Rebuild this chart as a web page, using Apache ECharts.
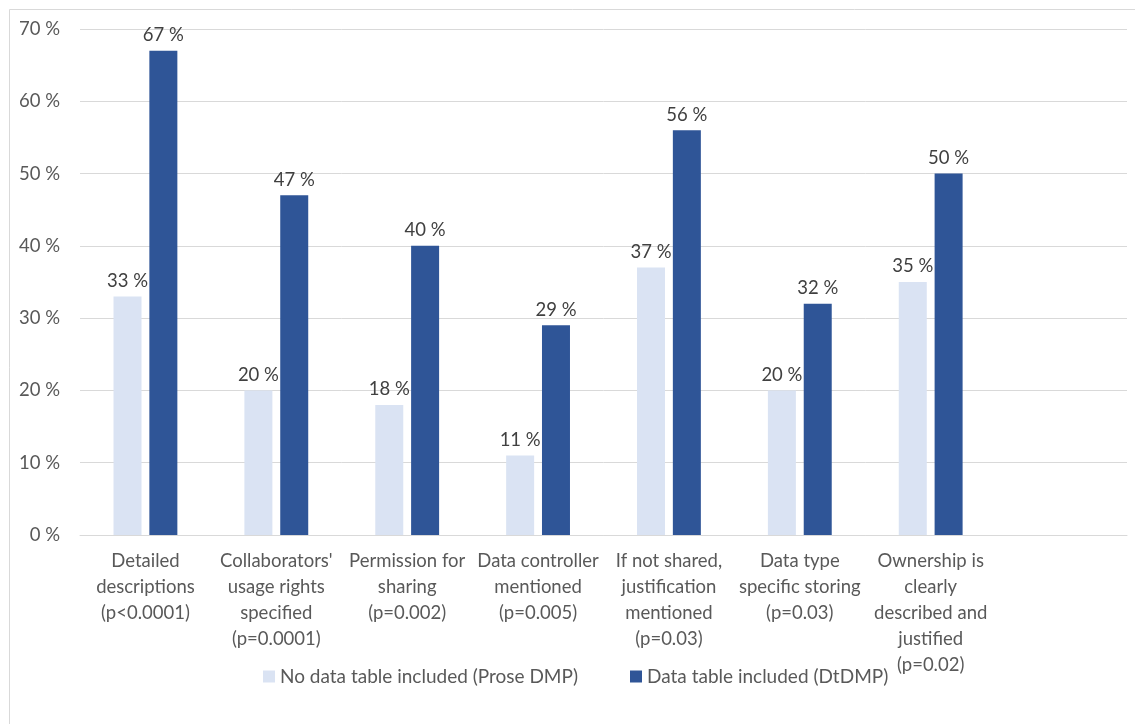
<!DOCTYPE html>
<html>
<head>
<meta charset="utf-8">
<script src="https://cdn.jsdelivr.net/npm/echarts@6/dist/echarts.min.js"></script>
<style>
  html, body { margin: 0; padding: 0; background: #fff; }
  #chart { width: 1135px; height: 724px; }
</style>
</head>
<body>
<div id="chart"></div>
<script>
// Share of DMPs meeting each criterion, by DMP format
const categories = [
  'Detailed\ndescriptions\n(p<0.0001)',
  "Collaborators'\nusage rights\nspecified\n(p=0.0001)",
  'Permission for\nsharing\n(p=0.002)',
  'Data controller\nmentioned\n(p=0.005)',
  'If not shared,\njustification\nmentioned\n(p=0.03)',
  'Data type\nspecific storing\n(p=0.03)',
  'Ownership is\nclearly\ndescribed and\njustified\n(p=0.02)',
  ''
];
const proseValues = [33, 20, 18, 11, 37, 20, 35, null];
const tableValues = [67, 47, 40, 29, 56, 32, 50, null];
const seriesNames = ['No data table included (Prose DMP)', 'Data table included (DtDMP)'];
const yTicks = { min: 0, max: 70, interval: 10 };

const FONT = 'Lato';
const TEXT = '#595959';

const chart = echarts.init(document.getElementById('chart'));

const labelStyle = {
  show: true,
  position: 'top',
  distance: 6,
  formatter: p => p.value + ' %',
  fontFamily: FONT,
  fontSize: 18.5,
  color: '#404040'
};

chart.setOption({
  animation: false,
  backgroundColor: '#fff',
  textStyle: { fontFamily: FONT },
  graphic: [{
    type: 'rect',
    silent: true,
    shape: { x: 9.5, y: 9.5, width: 1300, height: 900 },
    style: { fill: 'none', stroke: '#d9d9d9', lineWidth: 1 }
  }],
  grid: { left: 80, right: 8, top: 29, bottom: 189, containLabel: false },
  legend: {
    top: 662,
    left: 258,
    itemWidth: 12,
    itemHeight: 12,
    itemGap: 52,
    icon: 'rect',
    textStyle: { fontFamily: FONT, fontSize: 19, color: TEXT },
    data: seriesNames
  },
  xAxis: {
    type: 'category',
    data: categories,
    axisLine: { lineStyle: { color: '#d9d9d9' } },
    axisTick: { show: false },
    axisLabel: {
      interval: 0,
      margin: 13,
      fontFamily: FONT,
      fontSize: 18.5,
      lineHeight: 26,
      color: TEXT,
      align: 'center'
    }
  },
  yAxis: {
    type: 'value',
    min: yTicks.min,
    max: yTicks.max,
    interval: yTicks.interval,
    axisLine: { show: false },
    axisTick: { show: false },
    splitLine: { lineStyle: { color: '#d9d9d9' } },
    axisLabel: {
      formatter: '{value} %',
      margin: 20,
      fontFamily: FONT,
      fontSize: 18.5,
      color: TEXT
    }
  },
  series: [
    {
      name: seriesNames[0],
      type: 'bar',
      data: proseValues,
      barWidth: 28,
      barGap: '28%',
      itemStyle: { color: '#dae3f3' },
      label: labelStyle
    },
    {
      name: seriesNames[1],
      type: 'bar',
      data: tableValues,
      barWidth: 28,
      itemStyle: { color: '#2f5597' },
      label: labelStyle
    }
  ]
});
</script>
</body>
</html>
